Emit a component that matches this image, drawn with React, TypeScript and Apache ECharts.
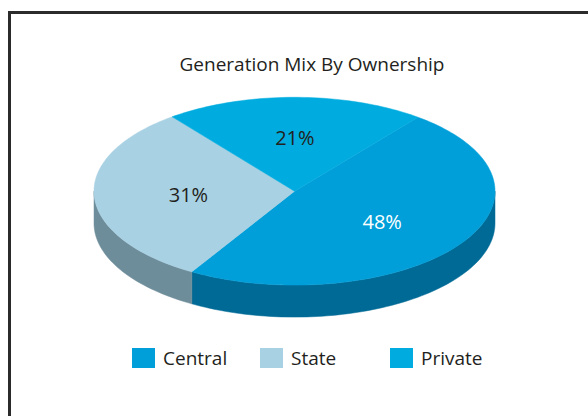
import React, { useEffect, useRef } from "react";
import * as echarts from "echarts";

const titleText = "Generation Mix By Ownership";
const categories = ["Central", "State", "Private"];
const values = [48, 31, 21];
const topColors = ["#009fd9", "#a8d1e3", "#00acdf"];
const sideColors = ["#006a96", "#6e8d9a", "#00799e"];
const labelColors = ["#ffffff", "#231f20", "#231f20"];

const FONT = "'Open Sans', 'Noto Sans', sans-serif";
const CX = 294.5;
const CY = 191.2;
const RX = 200.5;
const RY = 93.9;
const DEPTH = 32;
const START = 52;
const LABEL_FX = 0.53;
const LABEL_FY = 0.57;
const legendLefts = [127, 255, 385];

function pt(t: number, dy = 0): number[] {
  const r = (t * Math.PI) / 180;
  return [CX + RX * Math.cos(r), CY - RY * Math.sin(r) + dy];
}

function arc(hi: number, lo: number, dy = 0): number[][] {
  const pts: number[][] = [];
  const n = Math.max(2, Math.ceil((hi - lo) / 1.5));
  for (let k = 0; k <= n; k++) {
    pts.push(pt(hi - ((hi - lo) * k) / n, dy));
  }
  return pts;
}

function makeRender(i: number) {
  return (params: any, api: any) => {
    const v = api.value(0);
    const total = values.reduce((a, b) => a + b, 0);
    const before = values.slice(0, i).reduce((a, b) => a + b, 0);
    const a0 = START - (before / total) * 360;
    const a1 = a0 - (v / total) * 360;
    const children: any[] = [];
    // side (front-facing parts only)
    for (let k = -2; k <= 1; k++) {
      const lo = Math.max(a1, -180 + 360 * k);
      const hi = Math.min(a0, 360 * k);
      if (hi - lo > 0.01) {
        const top = arc(hi, lo, 0);
        const bot = arc(hi, lo, DEPTH).reverse();
        children.push({
          type: "polygon",
          shape: { points: top.concat(bot) },
          style: { fill: sideColors[i], stroke: sideColors[i], lineWidth: 0.5 },
        });
      }
    }
    // top face
    children.push({
      type: "polygon",
      shape: { points: [[CX, CY]].concat(arc(a0, a1, 0)) },
      style: { fill: topColors[i], stroke: topColors[i], lineWidth: 0.5 },
    });
    const mid = (a0 + a1) / 2;
    const r = (mid * Math.PI) / 180;
    const pct = Math.round((v / total) * 100) + "%";
    children.push({
      type: "text",
      z2: 10,
      style: {
        text: pct,
        x: CX + RX * LABEL_FX * Math.cos(r),
        y: CY - RY * LABEL_FY * Math.sin(r),
        fill: labelColors[i],
        fontSize: 20,
        fontFamily: FONT,
        align: "center",
        verticalAlign: "middle",
      },
    });
    return { type: "group", children };
  };
}

export default function App() {
  const ref = useRef<HTMLDivElement>(null);
  useEffect(() => {
    document.body.style.margin = "0";
    const chart = echarts.init(ref.current!, null, { renderer: "svg" });
    chart.setOption({
      animation: false,
      backgroundColor: "#ffffff",
      title: {
        text: titleText,
        left: 307,
        top: 49,
        textAlign: "center",
        textStyle: { fontSize: 19, fontWeight: "normal", color: "#231f20", fontFamily: FONT },
      },
      legend: categories.map((c, i) => ({
        data: [c],
        left: legendLefts[i],
        top: 343,
        icon: "rect",
        itemWidth: 23,
        itemHeight: 20,
        selectedMode: false,
        textStyle: { fontSize: 19, color: "#231f20", fontFamily: FONT, padding: [0, 0, 0, 3] },
      })),
      graphic: [
        {
          type: "rect",
          shape: { x: 9.5, y: 12.5, width: 700, height: 500 },
          style: { fill: "none", stroke: "#2b2b2b", lineWidth: 3 },
          silent: true,
        },
      ],
      series: categories.map((c, i) => ({
        type: "custom",
        name: c,
        coordinateSystem: "none",
        silent: true,
        itemStyle: { color: topColors[i] },
        data: [values[i]],
        renderItem: makeRender(i),
      })),
    });
    return () => chart.dispose();
  }, []);
  return <div ref={ref} style={{ width: 588, height: 416 }} />;
}
